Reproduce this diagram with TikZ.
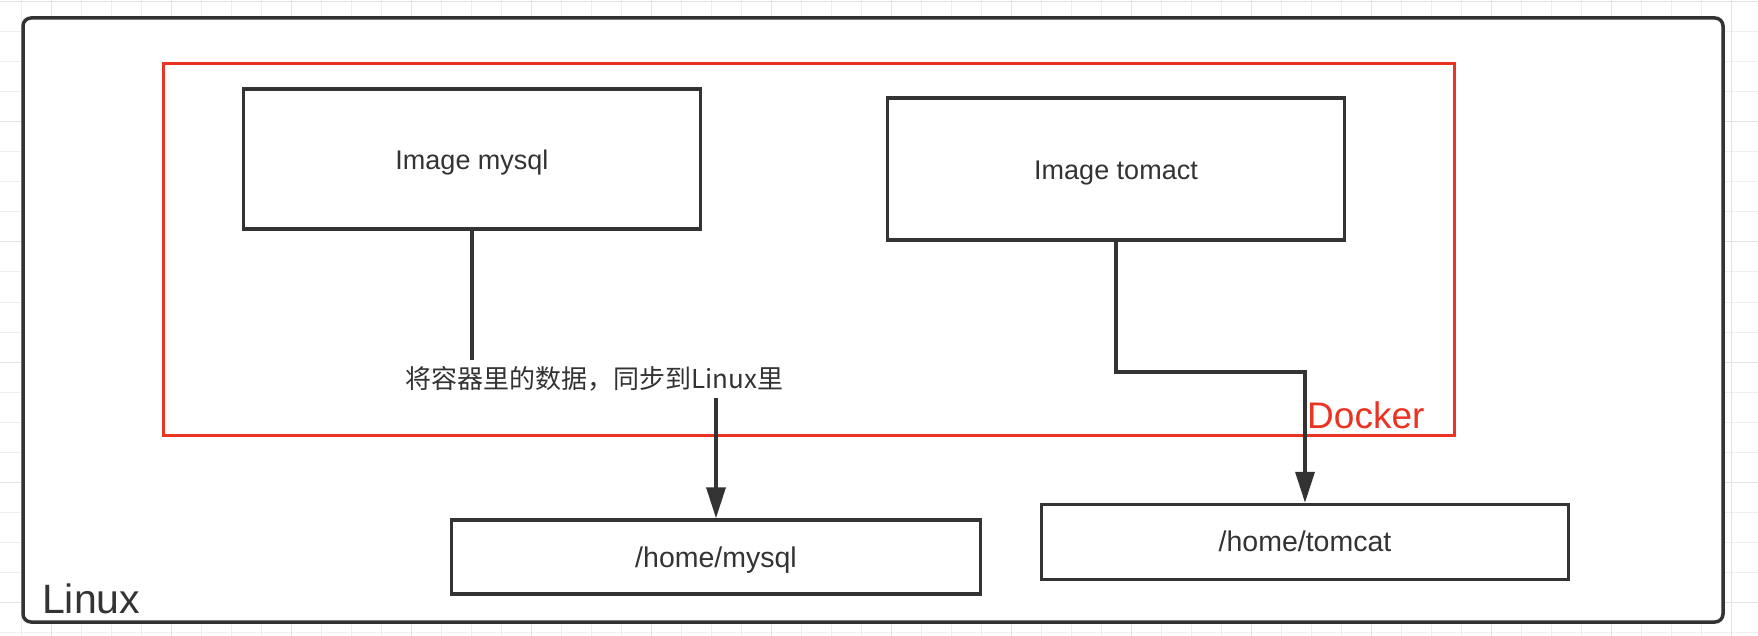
\documentclass[tikz,border=0pt]{standalone}
\usepackage{fontspec}
\setmainfont{Liberation Sans}
\newfontfamily\cjk{Noto Sans CJK SC}
\usetikzlibrary{arrows.meta}
\definecolor{ink}{HTML}{333333}
\definecolor{dockred}{RGB}{234,51,35}
\definecolor{gridminor}{HTML}{EFEFEF}
\definecolor{gridmajor}{HTML}{E2E2E2}
\tikzset{
  box/.style={draw=ink, line width=3.5pt, fill=white, inner sep=0pt, text=ink,
    text height=20.6pt, text depth=0pt,
    font=\fontsize{27}{32}\selectfont},
  conn/.style={draw=ink, line width=3.5pt},
  arrowconn/.style={conn, -{Triangle[width=19pt,length=31pt]}},
}
\begin{document}
\begin{tikzpicture}[x=1pt,y=-1pt]
\useasboundingbox (0,0) rectangle (1758,636);
\fill[white] (0,0) rectangle (1758,636);
% background grid
\foreach \x in {21,51,...,1761} \draw[gridminor, line width=1pt] (\x,0) -- (\x,636);
\foreach \y in {2,32,...,636} \draw[gridminor, line width=1pt] (0,\y) -- (1758,\y);
\foreach \x in {51,171,...,1761} \draw[gridmajor, line width=1pt] (\x,0) -- (\x,636);
\foreach \y in {2,122,...,636} \draw[gridmajor, line width=1pt] (0,\y) -- (1758,\y);
% Linux host
\draw[ink, line width=3.5pt, fill=white, rounded corners=8pt] (23,18) rectangle (1723,622);
\node[anchor=base west, text=ink, inner sep=0pt, font=\fontsize{41}{48}\selectfont] (linux) at (42,613) {Linux};
% Docker area
\draw[dockred, line width=3pt] (163.5,63.5) rectangle (1454.5,435.5);
\node[anchor=base west, text=dockred, inner sep=0pt, font=\fontsize{37}{44}\selectfont] (docker) at (1307,428) {Docker};
% boxes
\node[box, minimum width=457pt, minimum height=140pt] (mysql) at (472,159) {Image mysql};
\node[box, minimum width=457pt, minimum height=142pt] (tomcat) at (1116,169) {Image tomact};
\node[box, minimum width=529pt, minimum height=74pt, font=\fontsize{28.5}{32}\selectfont] (hmysql) at (716,557) {/home/mysql};
\node[box, minimum width=527pt, minimum height=75pt, text height=19.4pt, font=\fontsize{28.5}{32}\selectfont] (htomcat) at (1305,542) {/home/tomcat};
% connectors
\coordinate (m1) at (716,380);
\coordinate (t1) at (1305,372);
\draw[arrowconn] (mysql.south) |- (m1) -- (hmysql.north);
\node[fill=white, text=ink, inner xsep=2pt, minimum height=38pt, font=\cjk\fontsize{26}{30}\selectfont] (lab) at (594.5,379) {将容器里的数据，同步到Linux里};
\draw[arrowconn] (tomcat.south) |- (t1) -- (htomcat.north);
\end{tikzpicture}
\end{document}
